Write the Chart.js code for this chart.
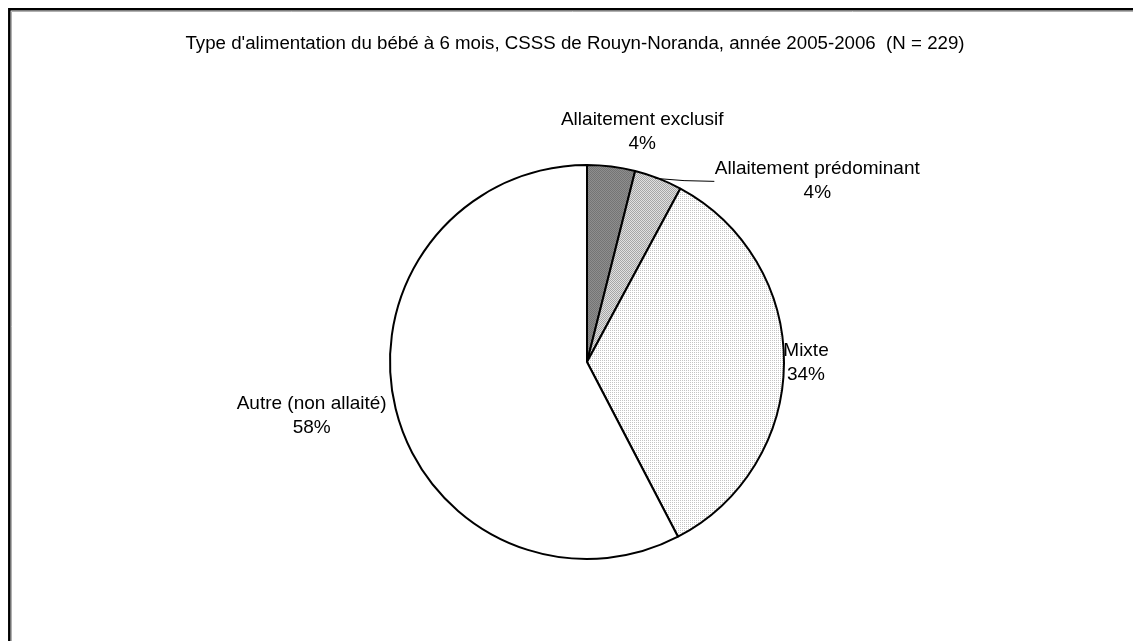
<!DOCTYPE html>
<html>
<head>
<meta charset="utf-8">
<script src="https://cdn.jsdelivr.net/npm/chart.js@4.4.0/dist/chart.umd.min.js"></script>
<style>
  html, body { margin: 0; padding: 0; background: #fff; }
  #wrap { position: relative; width: 1133px; height: 641px; }
</style>
</head>
<body>
<div id="wrap"><canvas id="myChart" width="1133" height="641"></canvas></div>
<script>
// Donnees du graphique (N = 229)
var titre = "Type d'alimentation du bébé à 6 mois, CSSS de Rouyn-Noranda, année 2005-2006  (N = 229)";
var categories = ['Allaitement exclusif', 'Allaitement prédominant', 'Mixte', 'Autre (non allaité)'];
var effectifs = [9, 9, 79, 132];

// decalage des etiquettes par rapport au bord de la tranche
var decalages = [[31, -35], [159, 2], [22, -1], [-84, 7]];

// petits motifs de remplissage (trames grises)
function trame(couleurs) {
    var c = document.createElement('canvas');
    c.width = 2; c.height = 2;
    var g = c.getContext('2d');
    g.fillStyle = couleurs[0]; g.fillRect(0, 0, 1, 1);
    g.fillStyle = couleurs[1]; g.fillRect(1, 0, 1, 1);
    g.fillStyle = couleurs[2]; g.fillRect(0, 1, 1, 1);
    g.fillStyle = couleurs[3]; g.fillRect(1, 1, 1, 1);
    return g.createPattern(c, 'repeat');
}
var remplissages = [
    trame(['#747474', '#8e8e8e', '#8e8e8e', '#747474']),
    trame(['#a6a6a6', '#e0e0e0', '#e0e0e0', '#a6a6a6']),
    trame(['#c4c4c4', '#ffffff', '#ffffff', '#ffffff']),
    '#ffffff'
];

var total = effectifs.reduce(function (a, b) { return a + b; }, 0);

var cadreEtTextes = {
    id: 'cadreEtTextes',
    afterDraw: function (chart) {
        var ctx = chart.ctx;
        ctx.save();
        // cadre
        ctx.strokeStyle = '#b0b0b0';
        ctx.lineWidth = 1;
        ctx.beginPath();
        ctx.moveTo(11.5, 641); ctx.lineTo(11.5, 11.5); ctx.lineTo(1133, 11.5);
        ctx.stroke();
        ctx.strokeStyle = '#000';
        ctx.lineWidth = 2.5;
        ctx.beginPath();
        ctx.moveTo(9.3, 641); ctx.lineTo(9.3, 9.3); ctx.lineTo(1133, 9.3);
        ctx.stroke();

        ctx.fillStyle = '#000';
        ctx.font = '18.7px "Liberation Sans", Arial, sans-serif';
        ctx.textAlign = 'center';
        ctx.textBaseline = 'middle';
        ctx.fillText(titre, 575, 44);

        ctx.font = '19px "Liberation Sans", Arial, sans-serif';
        var meta = chart.getDatasetMeta(0);
        meta.data.forEach(function (arc, i) {
            var p = arc.getProps(['x', 'y', 'startAngle', 'endAngle', 'outerRadius'], true);
            var a = (p.startAngle + p.endAngle) / 2;
            var bx = p.x + Math.cos(a) * p.outerRadius;
            var by = p.y + Math.sin(a) * p.outerRadius;
            var lx = bx + decalages[i][0];
            var ly = by + decalages[i][1];
            var pct = Math.round(effectifs[i] / total * 100) + '%';
            ctx.fillText(categories[i], lx, ly - 12);
            ctx.fillText(pct, lx, ly + 12);
            if (i === 1) {
                // ligne de rappel
                ctx.strokeStyle = '#000';
                ctx.lineWidth = 1;
                ctx.beginPath();
                ctx.moveTo(bx - 3, by);
                ctx.quadraticCurveTo(bx + 25, by + 3, lx - 103, ly + 1);
                ctx.stroke();
            }
        });
        ctx.restore();
    }
};

var ctx = document.getElementById('myChart');
var pieChart = new Chart(ctx, {
    type: 'pie',
    data: {
        labels: categories,
        datasets: [{
            data: effectifs,
            backgroundColor: remplissages,
            borderColor: '#000',
            borderWidth: 2
        }]
    },
    options: {
        responsive: false,
        animation: false,
        radius: 197,
        layout: { padding: { left: 100, right: 59, top: 100, bottom: 17 } },
        plugins: {
            legend: { display: false },
            tooltip: { enabled: false },
            title: { display: false }
        }
    },
    plugins: [cadreEtTextes]
});
</script>
</body>
</html>
